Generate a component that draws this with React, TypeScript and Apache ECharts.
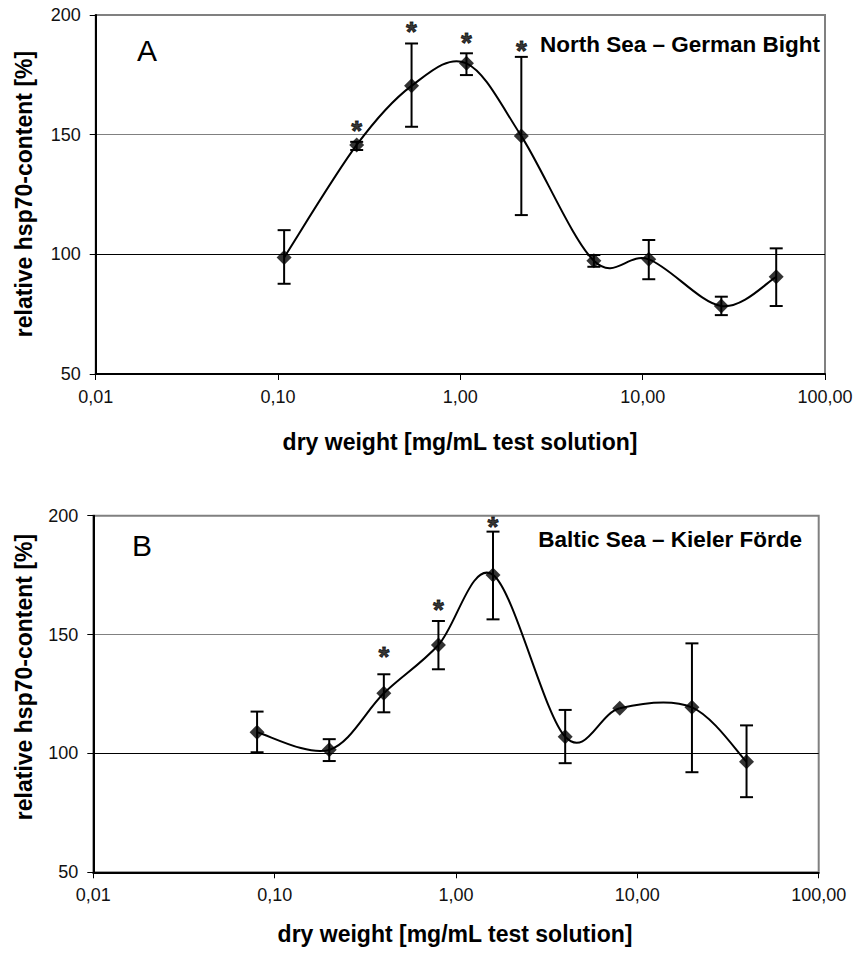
import React, { useEffect, useRef } from "react";
import * as echarts from "echarts";

const yTickValues = [50, 100, 150, 200];
const xRange = [0.01, 100];

// Panel A: North Sea – German Bight
const northX = [0.108, 0.27, 0.54, 1.08, 2.16, 5.4, 10.8, 27, 54];
const northY = [98.7, 145.7, 170.4, 179.8, 149.4, 97.3, 97.9, 78.4, 90.6];
const northErrHigh = [110.1, 147.0, 188.1, 184.0, 182.5, 99.7, 106.0, 82.3, 102.5];
const northErrLow = [87.7, 143.6, 153.3, 174.9, 116.4, 94.8, 89.6, 74.6, 78.4];
const northStarX = [0.27, 0.54, 1.08, 2.16];
const northStarY = [154, 195, 190.4, 187.4];

// Panel B: Baltic Sea – Kieler Förde
const balticX = [0.08, 0.2, 0.4, 0.8, 1.6, 4, 8, 20, 40];
const balticY = [108.9, 101.5, 125.3, 145.6, 175.1, 107.0, 119.0, 119.4, 96.5];
const balticErrHigh = [117.6, 106.0, 133.3, 155.7, 193.3, 118.3, null, 146.3, 111.8];
const balticErrLow = [100.5, 96.8, 117.3, 135.4, 156.4, 95.9, null, 92.1, 81.6];
const balticStarX = [0.4, 0.8, 1.6];
const balticStarY = [142.8, 162.5, 197.5];

const FONT = '"Liberation Sans", Arial, Helvetica, sans-serif';

function errorSeries(idx: number, xs: number[], lo: (number | null)[], hi: (number | null)[]) {
  const data: number[][] = [];
  xs.forEach((x, i) => {
    if (lo[i] != null && hi[i] != null) data.push([x, lo[i] as number, hi[i] as number]);
  });
  return {
    type: "custom",
    xAxisIndex: idx,
    yAxisIndex: idx,
    z: 3,
    data,
    encode: { x: 0, y: [1, 2] },
    renderItem: (params: any, api: any) => {
      const x = api.value(0);
      const pLo = api.coord([x, api.value(1)]);
      const pHi = api.coord([x, api.value(2)]);
      const hw = 6.5;
      const st = { stroke: "#000", lineWidth: 2 };
      return {
        type: "group",
        children: [
          { type: "line", shape: { x1: pHi[0], y1: pHi[1], x2: pLo[0], y2: pLo[1] }, style: st },
          { type: "line", shape: { x1: pHi[0] - hw, y1: pHi[1], x2: pHi[0] + hw, y2: pHi[1] }, style: st },
          { type: "line", shape: { x1: pLo[0] - hw, y1: pLo[1], x2: pLo[0] + hw, y2: pLo[1] }, style: st },
        ],
      };
    },
  };
}

// Excel-like smoothed line (Catmull-Rom Bezier segments in pixel space)
function curveSeries(idx: number, xs: number[], ys: number[]) {
  const n = xs.length;
  return {
    type: "custom",
    xAxisIndex: idx,
    yAxisIndex: idx,
    z: 4,
    data: xs.map((x, i) => [x, ys[i]]),
    encode: { x: 0, y: 1 },
    renderItem: (params: any, api: any) => {
      const i = params.dataIndex;
      if (i >= n - 1) return null;
      const P = (k: number) => api.coord([xs[k], ys[k]]);
      const p0 = P(Math.max(i - 1, 0));
      const p1 = P(i);
      const p2 = P(i + 1);
      const p3 = P(Math.min(i + 2, n - 1));
      const t = 1 / 6;
      return {
        type: "bezierCurve",
        shape: {
          x1: p1[0], y1: p1[1],
          cpx1: p1[0] + (p2[0] - p0[0]) * t, cpy1: p1[1] + (p2[1] - p0[1]) * t,
          cpx2: p2[0] - (p3[0] - p1[0]) * t, cpy2: p2[1] - (p3[1] - p1[1]) * t,
          x2: p2[0], y2: p2[1],
        },
        style: { stroke: "#000", lineWidth: 2, fill: "none" },
      };
    },
  };
}

function markerSeries(idx: number, xs: number[], ys: number[]) {
  return {
    type: "scatter",
    xAxisIndex: idx,
    yAxisIndex: idx,
    z: 5,
    data: xs.map((x, i) => [x, ys[i]]),
    symbol: "diamond",
    symbolSize: 15,
    itemStyle: { color: "#000" },
  };
}

function starSeries(idx: number, xs: number[], ys: number[]) {
  return {
    type: "scatter",
    xAxisIndex: idx,
    yAxisIndex: idx,
    z: 6,
    symbol: "circle",
    symbolSize: 1,
    itemStyle: { color: "rgba(0,0,0,0)" },
    data: xs.map((x, i) => [x, ys[i]]),
    label: {
      show: true,
      position: "inside",
      offset: [0, 5],
      formatter: "*",
      fontSize: 28,
      fontWeight: "bold",
      fontFamily: FONT,
      color: "#000",
      textBorderColor: "#000",
      textBorderWidth: 0.8,
    },
  };
}

function xAxisDef(idx: number) {
  return {
    type: "log",
    logBase: 10,
    gridIndex: idx,
    min: xRange[0],
    max: xRange[1],
    axisLine: { show: true, lineStyle: { color: "#000", width: 2 } },
    axisTick: { show: true, length: 6, lineStyle: { color: "#000", width: 1 } },
    axisLabel: {
      margin: 14,
      fontSize: 18,
      fontFamily: FONT,
      color: "#111",
      formatter: (v: number) => v.toFixed(2).replace(".", ","),
    },
    splitLine: { show: false },
  };
}

function yAxisDef(idx: number) {
  return {
    type: "value",
    gridIndex: idx,
    min: yTickValues[0],
    max: yTickValues[yTickValues.length - 1],
    interval: 50,
    axisLine: { show: true, lineStyle: { color: "#000", width: 2 } },
    axisTick: { show: true, length: 6, lineStyle: { color: "#000", width: 1 } },
    axisLabel: { margin: 15, fontSize: 18, fontFamily: FONT, color: "#111" },
    splitLine: {
      show: true,
      lineStyle: { color: ["#000", "#000", "#808080", "#808080"], width: 1 },
    },
  };
}

export default function App() {
  const ref = useRef<HTMLDivElement>(null);
  useEffect(() => {
    document.body.style.margin = "0";
    const chart = echarts.init(ref.current as HTMLDivElement, undefined, { renderer: "svg" });
    chart.setOption({
      animation: false,
      backgroundColor: "#fff",
      grid: [
        { left: 95.7, right: 33, top: 15, height: 359, show: true, borderColor: "#808080", borderWidth: 2 },
        { left: 93.3, right: 39.3, top: 515.7, height: 356.6, show: true, borderColor: "#808080", borderWidth: 2 },
      ],
      xAxis: [xAxisDef(0), xAxisDef(1)],
      yAxis: [yAxisDef(0), yAxisDef(1)],
      series: [
        errorSeries(0, northX, northErrLow, northErrHigh),
        curveSeries(0, northX, northY),
        markerSeries(0, northX, northY),
        starSeries(0, northStarX, northStarY),
        errorSeries(1, balticX, balticErrLow, balticErrHigh),
        curveSeries(1, balticX, balticY),
        markerSeries(1, balticX, balticY),
        starSeries(1, balticStarX, balticStarY),
      ],
      graphic: [
        {
          type: "text", x: 24, y: 194, rotation: Math.PI / 2,
          style: { text: "relative hsp70-content [%]", font: `bold 23px ${FONT}`, textAlign: "center", textVerticalAlign: "middle", fill: "#000" },
        },
        {
          type: "text", x: 24, y: 677, rotation: Math.PI / 2,
          style: { text: "relative hsp70-content [%]", font: `bold 23px ${FONT}`, textAlign: "center", textVerticalAlign: "middle", fill: "#000" },
        },
        {
          type: "text", x: 460, y: 442,
          style: { text: "dry weight [mg/mL test solution]", font: `bold 23px ${FONT}`, textAlign: "center", textVerticalAlign: "middle", fill: "#000" },
        },
        {
          type: "text", x: 455, y: 934,
          style: { text: "dry weight [mg/mL test solution]", font: `bold 23px ${FONT}`, textAlign: "center", textVerticalAlign: "middle", fill: "#000" },
        },
        {
          type: "text", x: 137, y: 50,
          style: { text: "A", font: `30px ${FONT}`, textAlign: "left", textVerticalAlign: "middle", fill: "#000" },
        },
        {
          type: "text", x: 132, y: 545,
          style: { text: "B", font: `30px ${FONT}`, textAlign: "left", textVerticalAlign: "middle", fill: "#000" },
        },
        {
          type: "text", x: 820, y: 44,
          style: { text: "North Sea – German Bight", font: `bold 22.5px ${FONT}`, textAlign: "right", textVerticalAlign: "middle", fill: "#000" },
        },
        {
          type: "text", x: 802, y: 539,
          style: { text: "Baltic Sea – Kieler Förde", font: `bold 22.5px ${FONT}`, textAlign: "right", textVerticalAlign: "middle", fill: "#000" },
        },
      ],
    });
    return () => chart.dispose();
  }, []);
  return <div ref={ref} style={{ width: 858, height: 953 }} />;
}
